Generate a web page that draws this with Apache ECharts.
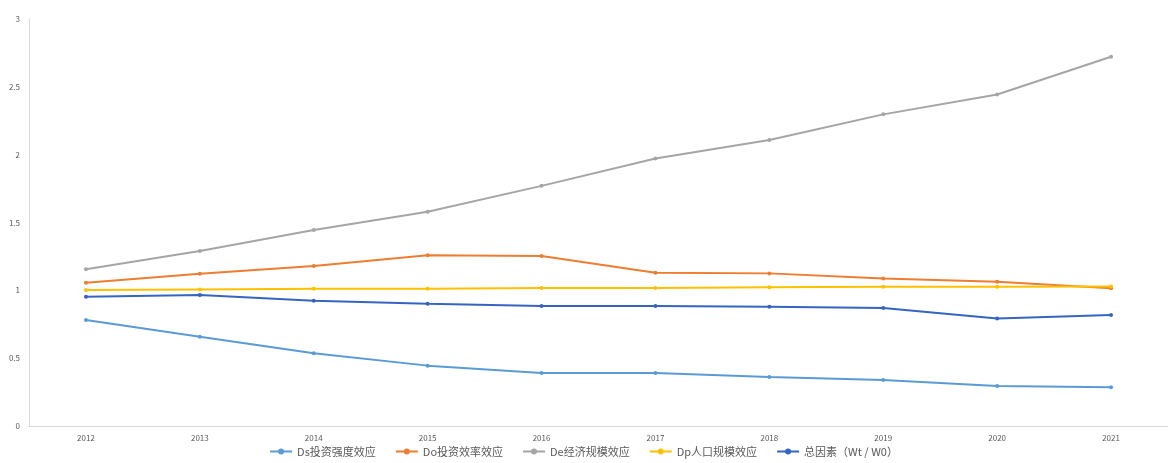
<!DOCTYPE html>
<html>
<head>
<meta charset="utf-8">
<script src="https://cdn.jsdelivr.net/npm/echarts@6/dist/echarts.min.js"></script>
<style>
html,body{margin:0;padding:0;background:#fff;}
#chart{width:1168px;height:463px;}
</style>
</head>
<body>
<div id="chart"></div>
<script>
// Years on the horizontal axis
const years = ['2012','2013','2014','2015','2016','2017','2018','2019','2020','2021'];

// Decomposition effects per year
const dsEffect = [0.781, 0.658, 0.536, 0.445, 0.391, 0.391, 0.361, 0.339, 0.295, 0.285];
const doEffect = [1.056, 1.122, 1.179, 1.258, 1.253, 1.130, 1.125, 1.088, 1.064, 1.015];
const deEffect = [1.155, 1.290, 1.444, 1.579, 1.770, 1.972, 2.108, 2.297, 2.444, 2.722];
const dpEffect = [1.002, 1.007, 1.012, 1.012, 1.017, 1.017, 1.022, 1.027, 1.027, 1.028];
const totalEffect = [0.953, 0.965, 0.923, 0.901, 0.884, 0.884, 0.879, 0.870, 0.793, 0.818];

const seriesNames = ['Ds投资强度效应', 'Do投资效率效应', 'De经济规模效应', 'Dp人口规模效应', '总因素（Wt / W0）'];
const seriesColors = ['#5B9BD5', '#ED7D31', '#A5A5A5', '#FFC000', '#3565C0'];
const seriesData = [dsEffect, doEffect, deEffect, dpEffect, totalEffect];

const chart = echarts.init(document.getElementById('chart'));
const font = '"Noto Sans CJK SC", "Noto Sans", sans-serif';

chart.setOption({
  backgroundColor: '#fff',
  animation: false,
  color: seriesColors,
  legend: {
    bottom: 1,
    left: 'center',
    itemWidth: 22,
    itemHeight: 6,
    itemGap: 20,
    // short line with a solid dot in its middle (same winding for both parts)
    icon: 'path://M0,2 L22,2 L22,4 L0,4 Z M8,3 a3,3 0 1,1 6,0 a3,3 0 1,1 -6,0 Z',
    textStyle: { color: '#595959', fontSize: 11, fontFamily: font },
    data: seriesNames
  },
  grid: { left: 29, top: 19, width: 1145, height: 407, containLabel: false },
  xAxis: {
    type: 'category',
    data: years,
    boundaryGap: true,
    axisLine: { lineStyle: { color: '#D9D9D9', width: 1 } },
    axisTick: { show: false },
    axisLabel: { color: '#595959', fontSize: 8, fontFamily: font, margin: 8 }
  },
  yAxis: {
    type: 'value',
    min: 0,
    max: 3,
    interval: 0.5,
    axisLine: { show: true, lineStyle: { color: '#D9D9D9', width: 1 } },
    axisTick: { show: false },
    splitLine: { show: false },
    axisLabel: { color: '#595959', fontSize: 8, fontFamily: font, margin: 9 }
  },
  series: seriesNames.map((name, i) => ({
    name: name,
    type: 'line',
    data: seriesData[i],
    symbol: 'circle',
    symbolSize: 4,
    lineStyle: { width: 2, color: seriesColors[i] },
    itemStyle: { color: seriesColors[i] }
  }))
});
</script>
</body>
</html>
